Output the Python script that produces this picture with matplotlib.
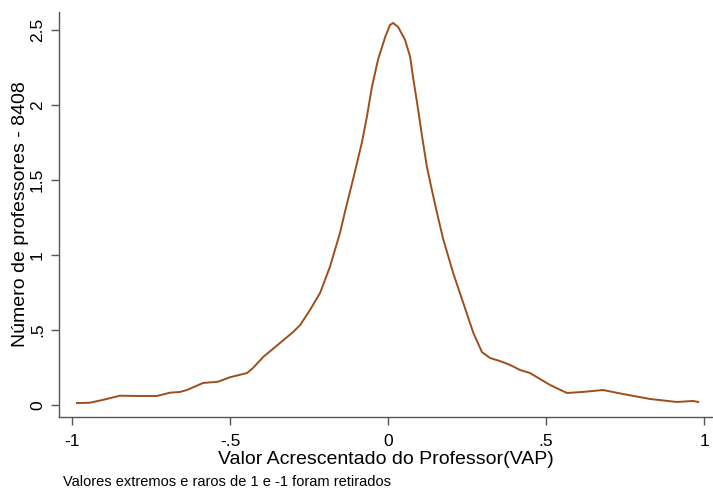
import matplotlib
matplotlib.use("Agg")
import matplotlib.pyplot as plt

plt.rcParams["font.family"] = ["Liberation Sans", "DejaVu Sans"]

# densidade do VAP
vap = [-0.984, -0.943, -0.90, -0.848, -0.785, -0.731, -0.69, -0.658, -0.636,
       -0.585, -0.538, -0.50, -0.446, -0.427, -0.395, -0.342, -0.30, -0.278,
       -0.247, -0.215, -0.184, -0.152, -0.136, -0.11, -0.083, -0.067, -0.051,
       -0.032, -0.009, 0.006, 0.016, 0.032, 0.054, 0.070, 0.079, 0.092, 0.108,
       0.123, 0.139, 0.155, 0.174, 0.206, 0.238, 0.270, 0.297, 0.323, 0.354,
       0.386, 0.418, 0.449, 0.513, 0.566, 0.617, 0.68, 0.744, 0.829, 0.914,
       0.965, 0.981]
densidade = [0.013, 0.015, 0.035, 0.062, 0.060, 0.060, 0.082, 0.087, 0.10,
             0.147, 0.155, 0.185, 0.213, 0.247, 0.32, 0.413, 0.487, 0.533,
             0.633, 0.747, 0.92, 1.147, 1.29, 1.51, 1.747, 1.92, 2.12,
             2.30, 2.453, 2.533, 2.547, 2.52, 2.433, 2.32, 2.187, 2.013, 1.787,
             1.587, 1.43, 1.28, 1.11, 0.88, 0.68, 0.48, 0.353, 0.313, 0.293,
             0.267, 0.233, 0.213, 0.133, 0.08, 0.087, 0.10, 0.073, 0.04, 0.02,
             0.027, 0.02]

xticks = [-1, -0.5, 0, 0.5, 1]
xlabels = ["-1", "-.5", "0", ".5", "1"]
yticks = [0, 0.5, 1, 1.5, 2, 2.5]
ylabels = ["0", ".5", "1", "1.5", "2", "2.5"]


def main():
    fig = plt.figure(figsize=(7.13, 4.90), dpi=100)
    ax = fig.add_axes([0.0827, 0.149, 0.9173, 0.8265])

    ax.plot(vap, densidade, color="#9e4e1a", linewidth=1.4,
            solid_joinstyle="round")

    ax.set_xlim(-1.041, 1.028)
    ax.set_ylim(-0.08, 2.62)
    ax.set_xticks(xticks)
    ax.set_xticklabels(xlabels, fontsize=12.5)
    ax.set_yticks(yticks)
    ax.set_yticklabels(ylabels, fontsize=12.5, rotation=90, va="center")

    for side in ("top", "right"):
        ax.spines[side].set_visible(False)
    for side in ("left", "bottom"):
        ax.spines[side].set_color("#555555")
        ax.spines[side].set_linewidth(1.0)
    ax.tick_params(axis="x", length=6, width=1.0, color="#555555", pad=6)
    ax.tick_params(axis="y", length=6, width=1.0, color="#555555", pad=4)

    ax.set_xlabel("Valor Acrescentado do Professor(VAP)", fontsize=14, labelpad=2)
    ax.set_ylabel("Número de professores - 8408", fontsize=14, labelpad=1)

    fig.text(63 / 713, 1 - 482 / 490, "Valores extremos e raros de 1 e -1 foram retirados",
             fontsize=10.5, va="center", ha="left")

    fig.savefig("out.png", dpi=100)


if __name__ == "__main__":
    main()
